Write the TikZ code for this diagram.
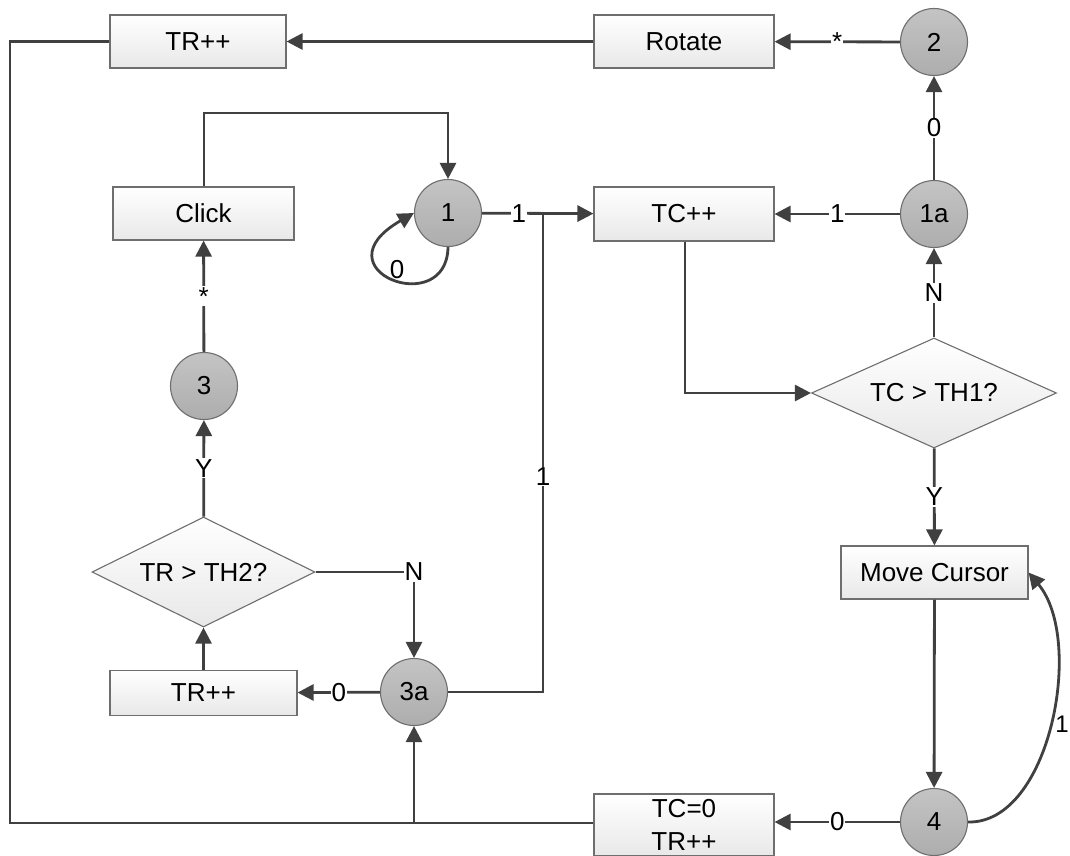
\documentclass[tikz,border=0pt]{standalone}
\usepackage{fontspec}
\setmainfont{Liberation Sans}
\usetikzlibrary{arrows.meta,shapes.geometric}
\definecolor{ln}{HTML}{404040}
\definecolor{bx}{HTML}{6E6E6E}
\definecolor{bxbot}{HTML}{E8E8E8}
\definecolor{cbot}{HTML}{ADADAD}
\definecolor{ctop}{HTML}{C4C4C4}
\begin{document}
\begin{tikzpicture}[x=1pt,y=-1pt,
  every node/.style={font=\fontsize{26}{31}\selectfont},
  procbox/.style={rectangle, draw=bx, line width=1.1pt, top color=white, bottom color=bxbot, inner sep=0pt, minimum height=53pt},
  state/.style={circle, draw=bx, line width=1.1pt, top color=ctop, bottom color=cbot, inner sep=0pt, minimum size=67pt},
  decision/.style={diamond, draw=bx, line width=1.1pt, top color=white, bottom color=bxbot, inner sep=0pt, shape aspect=2.2},
  conn/.style={draw=ln, line width=2.8pt},
  arr/.style={conn, -{Triangle[length=16pt,width=16pt]}},
  lbl/.style={fill=white, inner sep=1pt, text=black}
]
\useasboundingbox (0,0) rectangle (1070,855);
% nodes
\node[procbox, minimum width=176pt] (trtop) at (198,41.5) {TR++};
\node[procbox, minimum width=180pt] (rot) at (684,41.5) {Rotate};
\node[state] (c2) at (934,42) {2};
\node[procbox, minimum width=181pt] (click) at (203.5,213.5) {Click};
\node[state] (c1) at (448,213) {1};
\node[procbox, minimum width=180pt, minimum height=54pt] (tc) at (684,214) {TC++};
\node[state] (c1a) at (934,214) {1a};
\node[state] (c3) at (204,386) {3};
\node[decision, minimum width=245pt, minimum height=110pt] (d1) at (934,393) {TC > TH1?};
\node[procbox, minimum width=187pt] (mc) at (934.5,572.5) {Move Cursor};
\node[decision, minimum width=223pt, minimum height=110pt] (d2) at (203.5,572) {TR > TH2?};
\node[procbox, minimum width=187pt, minimum height=45pt] (trmid) at (203.5,693) {TR++};
\node[state] (c3a) at (414,692) {3a};
\node[procbox, minimum width=180pt, minimum height=62pt, align=center, font=\fontsize{26}{33}\selectfont] (tc0) at (684,825) {TC=0\\TR++};
\node[state] (c4) at (934,822) {4};
% helper coordinates
\coordinate (ltop) at (10,41.5);
\coordinate (lbot) at (10,823);
\coordinate (jb) at (414,823);
\coordinate (j1) at (543,213);
\coordinate (j3) at (543,692);
\coordinate (ct) at (204,113);
\coordinate (ct2) at (448,113);
% connectors
\draw[arr] (c2) -- node[lbl]{*} (rot);
\draw[arr] (rot) -- (trtop);
\draw[conn] (trtop.west) -- (ltop) -- (lbot) -- (jb);
\draw[conn] (tc0.west |- jb) -- (jb);
\draw[arr] (jb) -- (c3a.south);
\draw[arr] (c1a) -- node[lbl]{0} (c2);
\draw[arr] (c1a) -- node[lbl]{1} (tc);
\draw[arr] (d1) -- node[lbl]{N} (c1a);
\draw[arr] (tc.south -| 685,0) |- (d1.west);
\draw[arr] (d1) -- node[lbl]{Y} (mc);
\draw[arr] (mc) -- (c4);
\draw[arr] (c4) -- node[lbl]{0} (tc0.east |- c4);
\draw[arr] (c4.east) .. controls (1050,824) and (1085,640) .. (mc.east);
\node[font=\fontsize{24}{28}\selectfont, inner sep=1pt] (l4) at (1062,724) {1};
\draw[arr] (c1) -- node[lbl, pos=0.33]{1} (tc);
\draw[conn] (c3a.east) -- (j3) -- node[lbl, pos=0.45]{1} (j1);
\draw[arr] (c1.south) .. controls (447,320) and (315,270) .. (c1.west);
\node (l0) at (397,270) {0};
\draw[arr] (click.north -| ct) -- (ct) -- (ct2) -- (c1.north);
\draw[arr] (c3) -- node[lbl]{*} (click);
\draw[arr] (d2) -- node[lbl]{Y} (c3);
\draw[arr] (trmid) -- (d2);
\draw[arr] (d2.east) -| node[lbl]{N} (c3a.north);
\draw[arr] (c3a) -- node[lbl]{0} (trmid);
\end{tikzpicture}
\end{document}
